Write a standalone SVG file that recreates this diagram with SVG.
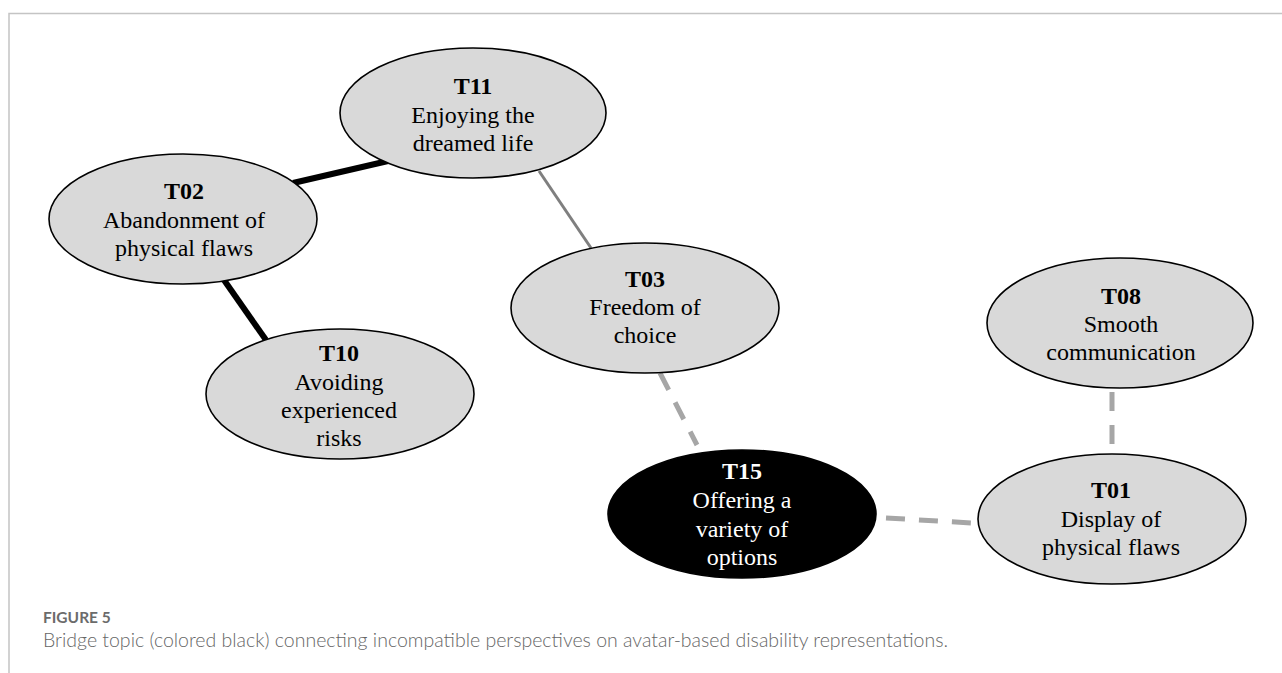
<svg xmlns="http://www.w3.org/2000/svg" width="1282" height="673" viewBox="0 0 1282 673">
<style>
.node ellipse{fill:#d9d9d9;stroke:#000;stroke-width:1.6}
.node text{font-family:"Liberation Serif","Times New Roman",serif;font-size:24px;fill:#000;text-anchor:middle}
.node .id{font-weight:bold}
#T15 ellipse{fill:#000}
#T15 text{fill:#fff}
.strong{stroke:#000;stroke-width:6;fill:none}
.mid{stroke:#7f7f7f;stroke-width:3;fill:none}
.weak{stroke:#a6a6a6;stroke-width:5;fill:none;stroke-dasharray:19 14}
.frame{stroke:#c4c4c4;stroke-width:1.5;fill:none}
.cap1{font-family:Lato,"Open Sans","Liberation Sans",sans-serif;font-size:15.5px;font-weight:700;fill:#6b6b6b}
.cap2{font-family:Lato,"Open Sans","Liberation Sans",sans-serif;font-size:19.5px;font-weight:300;fill:#666}
</style>
<rect width="1282" height="673" fill="#fff"/>
<path class="frame" d="M9 673 V13.5 H1282"/>
<g id="connectors">
<line class="strong" x1="293" y1="183" x2="388" y2="161"/>
<line class="strong" x1="224" y1="280" x2="266" y2="340"/>
<line class="mid" x1="539" y1="171" x2="591" y2="248"/>
<line class="weak" x1="660" y1="373" x2="697" y2="445"/>
<line class="weak" x1="886" y1="518" x2="972" y2="523"/>
<line class="weak" x1="1112" y1="392" x2="1112" y2="446"/>
</g>
<g id="T11" class="node">
<ellipse cx="473" cy="113" rx="133" ry="65"/>
<text class="id" x="473" y="94">T11</text>
<text x="473" y="123">Enjoying the</text>
<text x="473" y="151">dreamed life</text>
</g>
<g id="T02" class="node">
<ellipse cx="183" cy="219" rx="134" ry="65"/>
<text class="id" x="184" y="199">T02</text>
<text x="184" y="228">Abandonment of</text>
<text x="184" y="256">physical flaws</text>
</g>
<g id="T03" class="node">
<ellipse cx="645" cy="308" rx="134" ry="65"/>
<text class="id" x="645" y="287">T03</text>
<text x="645" y="315">Freedom of</text>
<text x="645" y="343">choice</text>
</g>
<g id="T08" class="node">
<ellipse cx="1120" cy="323" rx="133" ry="65"/>
<text class="id" x="1121" y="304">T08</text>
<text x="1121" y="332">Smooth</text>
<text x="1121" y="360">communication</text>
</g>
<g id="T10" class="node">
<ellipse cx="340" cy="394" rx="134" ry="65"/>
<text class="id" x="339" y="361">T10</text>
<text x="339" y="390">Avoiding</text>
<text x="339" y="418">experienced</text>
<text x="339" y="446">risks</text>
</g>
<g id="T15" class="node">
<ellipse cx="742" cy="514" rx="134" ry="64"/>
<text class="id" x="742" y="479">T15</text>
<text x="742" y="508">Offering a</text>
<text x="742" y="537">variety  of</text>
<text x="742" y="565">options</text>
</g>
<g id="T01" class="node">
<ellipse cx="1112" cy="519" rx="134" ry="65"/>
<text class="id" x="1111" y="498">T01</text>
<text x="1111" y="527">Display of</text>
<text x="1111" y="555">physical flaws</text>
</g>
<g id="caption">
<text class="cap1" x="43" y="623">FIGURE 5</text>
<text class="cap2" x="43" y="647" textLength="905">Bridge topic (colored black) connecting incompatible perspectives on avatar-based disability representations.</text>
</g>
</svg>
